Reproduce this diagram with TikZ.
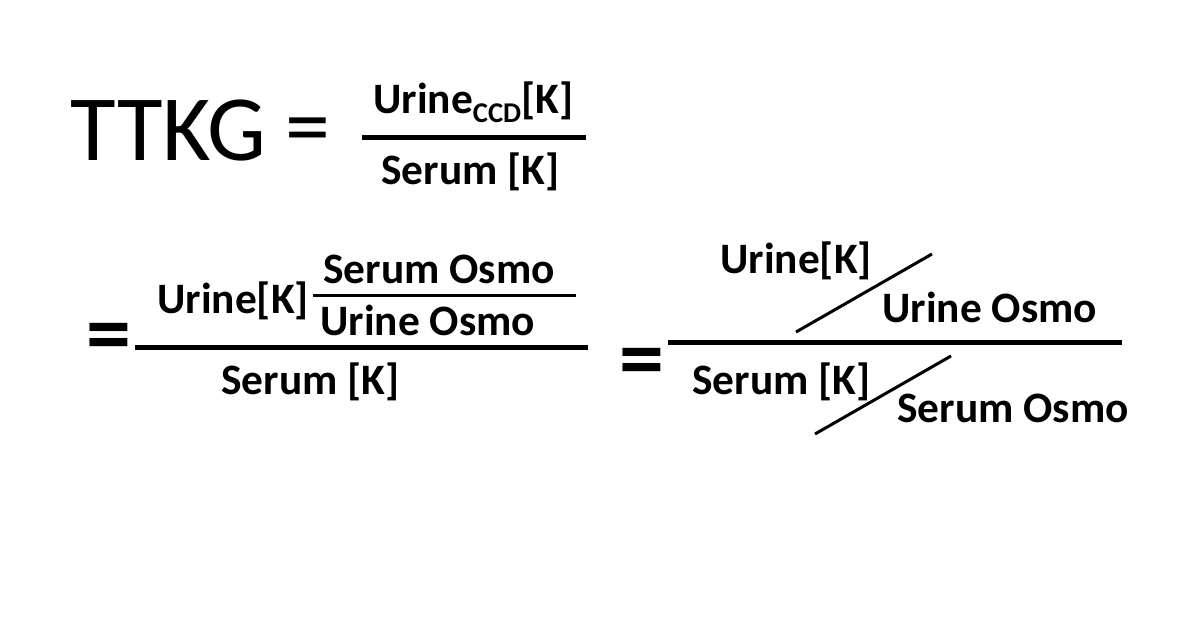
\documentclass[tikz,border=0pt]{standalone}
\usepackage{fontspec}
\setmainfont{Carlito}

\begin{document}
\begin{tikzpicture}[x=0.5pt,y=-0.5pt,
    term/.style={inner sep=0pt,anchor=base west,font=\fontsize{21.7}{26}\selectfont\bfseries},
    eqsign/.style={inner sep=0pt,anchor=center,font=\fontsize{45}{52}\selectfont\bfseries},
    fracbar/.style={line width=2.5pt},
    slash/.style={line width=1.5pt}]
      \useasboundingbox (0,0) rectangle (1200,628);
      % TTKG = Urine_CCD[K] / Serum [K]
      \node[inner sep=0pt,anchor=base west,font=\fontsize{46.7}{56}\selectfont] (ttkg) at (70,160) {TTKG};
      \node[inner sep=0pt,anchor=center,font=\fontsize{45}{54}\selectfont] (eqa) at (308,137) {=};
      \node[term] (uccd) at (373,113) {Urine\raisebox{-0.22em}{\fontsize{14.3}{17}\selectfont CCD}[K]};
      \node[term] (ska) at (381,184) {Serum [K]};
      \coordinate (bara1) at (362,137);
      \coordinate (bara2) at (586,137);
      \draw[fracbar] (bara1) -- (bara2);
      % = Urine[K] (Serum Osmo / Urine Osmo) / Serum [K]
      \node[eqsign] (eqb) at (109,343) {=};
      \node[term] (ukb) at (157,313) {Urine[K]};
      \node[term] (sob) at (323,283) {Serum Osmo};
      \node[term] (uob) at (320,335) {Urine Osmo};
      \node[term] (skb) at (221,394) {Serum [K]};
      \coordinate (barb1) at (135,347);
      \coordinate (barb2) at (588,347);
      \coordinate (smallb1) at (313,295);
      \coordinate (smallb2) at (576,295);
      \draw[fracbar] (barb1) -- (barb2);
      \draw[line width=1.5pt] (smallb1) -- (smallb2);
      % = (Urine[K] / Urine Osmo) / (Serum [K] / Serum Osmo)
      \node[eqsign] (eqc) at (642,368) {=};
      \node[term] (ukc) at (720,273) {Urine[K]};
      \node[term] (uoc) at (882,322) {Urine Osmo};
      \node[term] (skc) at (692,394) {Serum [K]};
      \node[term] (soc) at (897,422) {Serum Osmo};
      \coordinate (barc1) at (668,342);
      \coordinate (barc2) at (1122,342);
      \coordinate (sla1) at (796,332);
      \coordinate (sla2) at (932,254);
      \coordinate (slb1) at (815,434);
      \coordinate (slb2) at (951,356);
      \draw[fracbar] (barc1) -- (barc2);
      \draw[slash] (sla1) -- (sla2);
      \draw[slash] (slb1) -- (slb2);
\end{tikzpicture}
\end{document}
